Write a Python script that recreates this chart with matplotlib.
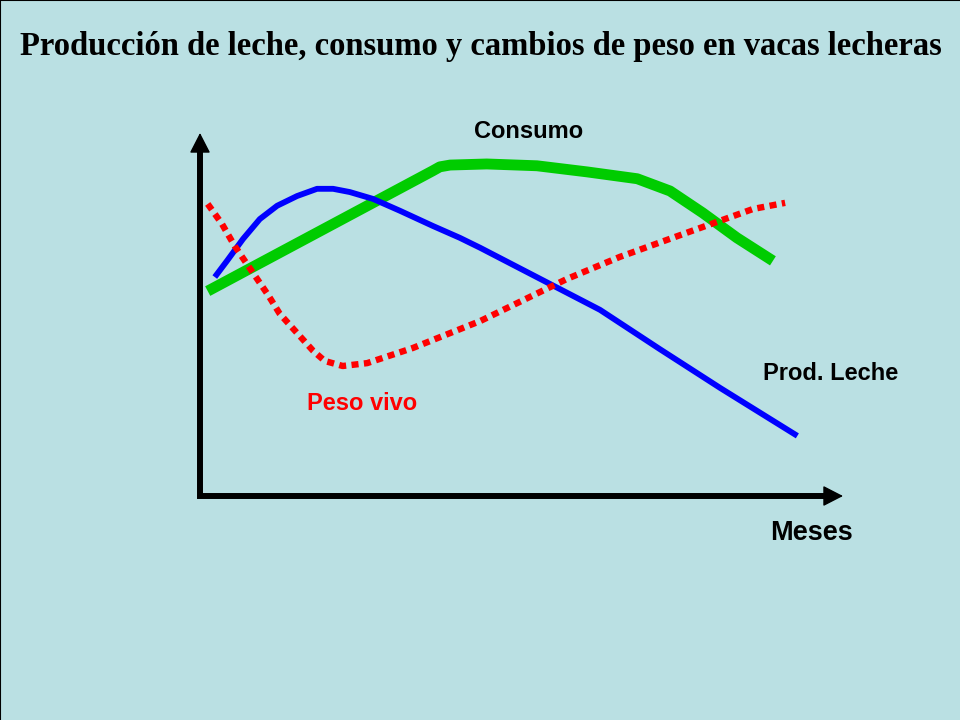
import matplotlib
matplotlib.use("Agg")
import matplotlib.pyplot as plt
from matplotlib.lines import Line2D

# values (x: months, y: relative level 0-100)
leche_x = [0.23, 0.42, 0.67, 0.93, 1.20, 1.51, 1.82, 2.07, 2.33, 2.69, 3.11, 3.62,
           4.04, 4.36, 5.29, 6.22, 7.15, 8.09, 9.29]
leche_y = [60.8, 65.3, 71.4, 76.9, 80.6, 83.3, 85.3, 85.3, 84.4, 82.5, 79.2, 75.0,
           71.7, 68.9, 60.3, 51.7, 40.8, 30.0, 16.7]

consumo_x = [0.12, 3.62, 3.73, 3.89, 4.46, 5.24, 6.02, 6.80, 7.31, 7.82, 8.35, 8.91]
consumo_y = [56.9, 90.3, 91.4, 91.9, 92.2, 91.7, 90.0, 88.1, 84.7, 78.6, 71.7, 65.3]

peso_x = [0.12, 0.34, 0.54, 0.75, 1.06, 1.24, 1.76, 1.94, 2.22, 2.60, 3.31, 4.36,
          5.71, 6.53, 7.57, 8.60, 9.10]
peso_y = [81.1, 75.6, 69.4, 63.9, 55.8, 50.6, 40.3, 37.5, 36.1, 36.9, 41.1, 48.6,
          60.3, 66.4, 73.1, 79.7, 81.4]

bg = "#bae0e3"

fig = plt.figure(figsize=(9.6, 7.2), dpi=100)
fig.patch.set_facecolor(bg)

# 0..100 on y spans 360 px above the x axis; the arrow tip sits a little higher
ax = fig.add_axes([200 / 960, 224 / 720, 643 / 960, 363 / 720])
ax.set_xlim(0, 10)
ax.set_ylim(0, 100.8)
ax.set_facecolor("none")
ax.axis("off")

ax.plot(consumo_x, consumo_y, color="#00cc00", lw=7.8, solid_capstyle="butt",
        solid_joinstyle="round")
ax.plot(leche_x, leche_y, color="#0000ff", lw=4.2, solid_capstyle="butt",
        solid_joinstyle="round")
ax.plot(peso_x, peso_y, color="#ff0000", lw=4.6, linestyle=(0, (1.1, 0.85)),
        dash_capstyle="butt")

# axes with arrow heads
ax.plot([0, 0, 0.99], [0.98, 0, 0], transform=ax.transAxes, color="black",
        lw=4.3, clip_on=False, solid_joinstyle="miter", solid_capstyle="butt")
head = dict(arrowstyle="-|>,head_length=0.7,head_width=0.36", lw=1,
            color="black", mutation_scale=18, shrinkA=0, shrinkB=0)
ax.annotate("", xy=(0, 1), xytext=(0, 0.9), xycoords="axes fraction",
            arrowprops=head, annotation_clip=False)
ax.annotate("", xy=(1, 0), xytext=(0.95, 0), xycoords="axes fraction",
            arrowprops=head, annotation_clip=False)

fig.text(20 / 960, 1 - 46 / 720,
         "Producción de leche, consumo y cambios de peso en vacas lecheras",
         fontsize=23.5, fontweight="bold", family="Liberation Serif",
         ha="left", va="center")

lab = dict(family="Liberation Sans", fontweight="bold", va="center")
fig.text(529 / 960, 1 - 131 / 720, "Consumo", fontsize=17, ha="center", **lab)
fig.text(831 / 960, 1 - 373 / 720, "Prod. Leche", fontsize=17, ha="center", **lab)
fig.text(362 / 960, 1 - 403 / 720, "Peso vivo", fontsize=17, ha="center",
         color="#ff0000", **lab)
fig.text(811 / 960, 1 - 533 / 720, "Meses", fontsize=19.5, ha="center", **lab)

# slide border on top and left
fig.add_artist(Line2D([0, 0], [0, 1], transform=fig.transFigure, color="black", lw=1.5))
fig.add_artist(Line2D([0, 1], [1, 1], transform=fig.transFigure, color="black", lw=1.5))

fig.savefig("out.png", dpi=100, facecolor=bg)
